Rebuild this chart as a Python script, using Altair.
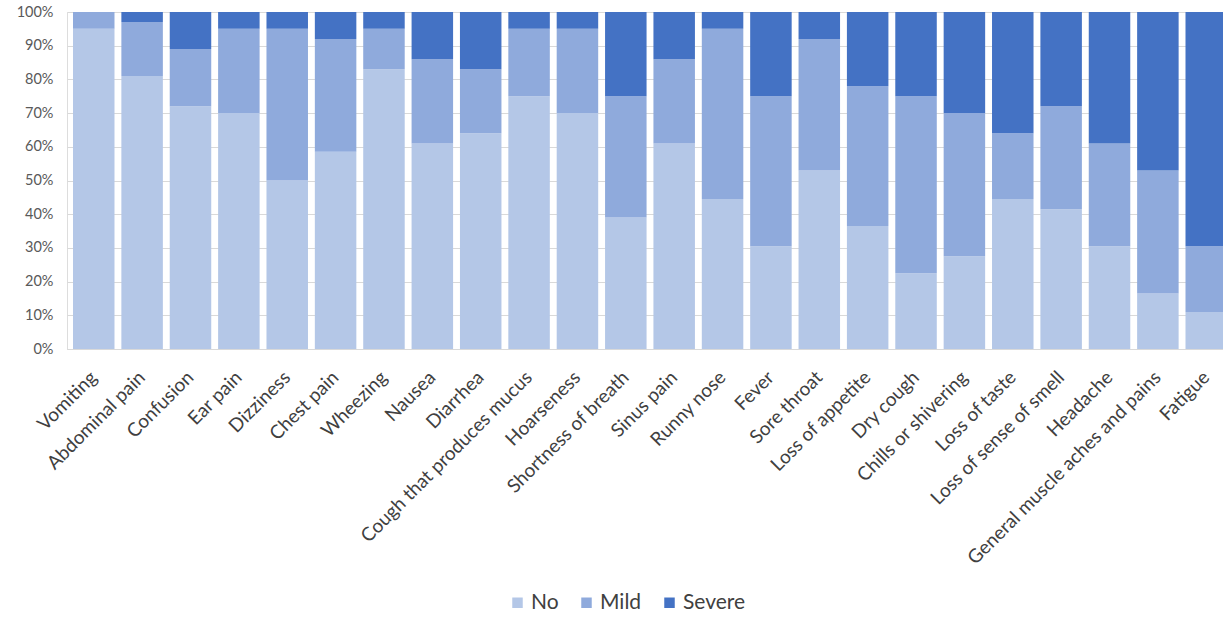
import altair as alt
import pandas as pd

# Symptom categories, in plotting order
symptoms = [
    "Vomiting", "Abdominal pain", "Confusion", "Ear pain", "Dizziness",
    "Chest pain", "Wheezing", "Nausea", "Diarrhea", "Cough that produces mucus",
    "Hoarseness", "Shortness of breath", "Sinus pain", "Runny nose", "Fever",
    "Sore throat", "Loss of appetite", "Dry cough", "Chills or shivering",
    "Loss of taste", "Loss of sense of smell", "Headache",
    "General muscle aches and pains", "Fatigue",
]

# Share of respondents (%) per severity level
no_vals = [95, 81, 72, 70, 50, 58.5, 83, 61, 64, 75, 70, 39, 61, 44.5,
           30.5, 53, 36.5, 22.5, 27.5, 44.5, 41.5, 30.5, 16.5, 11]
mild_vals = [5, 16, 17, 25, 45, 33.5, 12, 25, 19, 20, 25, 36, 25, 50.5,
             44.5, 39, 41.5, 52.5, 42.5, 19.5, 30.5, 30.5, 36.5, 19.5]
severe_vals = [0, 3, 11, 5, 5, 8, 5, 14, 17, 5, 5, 25, 14, 5,
               25, 8, 22, 25, 30, 36, 28, 39, 47, 69.5]

levels = ["No", "Mild", "Severe"]
colors = ["#B4C7E7", "#8FAADC", "#4472C4"]

rows = []
for i, s in enumerate(symptoms):
    for k, (lvl, vals) in enumerate(zip(levels, [no_vals, mild_vals, severe_vals])):
        rows.append({"symptom": s, "level": lvl, "value": vals[i], "rank": k})
df = pd.DataFrame(rows)

FONT = "Lato"

chart = alt.Chart(df).mark_bar().encode(
    x=alt.X(
        "symptom:N",
        sort=symptoms,
        title=None,
        # the band range runs a little past the right edge, so the last bar is cut
        scale=alt.Scale(range=[0, 1166], paddingInner=0.142, paddingOuter=0.124),
        axis=alt.Axis(
            labelAngle=-45,
            labelAlign="right",
            labelBaseline="middle",
            labelPadding=25,
            labelFontSize=19,
            labelColor="#404040",
            labelFont=FONT,
            labelLimit=500,
            ticks=False,
            domainColor="#D9D9D9",
            domainWidth=1,
        ),
    ),
    y=alt.Y(
        "value:Q",
        stack="normalize",
        title=None,
        scale=alt.Scale(domain=[0, 1], nice=False),
        axis=alt.Axis(
            values=[i / 10 for i in range(11)],
            format=".0%",
            labelFontSize=14.5,
            labelColor="#595959",
            labelFont=FONT,
            labelPadding=14,
            ticks=False,
            domain=False,
            gridColor="#D9D9D9",
            gridWidth=1,
        ),
    ),
    color=alt.Color(
        "level:N",
        sort=levels,
        scale=alt.Scale(domain=levels, range=colors),
        legend=alt.Legend(
            title=None,
            orient="none",
            direction="horizontal",
            legendX=440,
            legendY=580,
            symbolType="square",
            symbolSize=110,
            symbolStrokeWidth=0,
            labelFontSize=21,
            labelFont=FONT,
            labelColor="#404040",
            columnPadding=17,
            labelOffset=3,
        ),
    ),
    order=alt.Order("rank:Q", sort="ascending"),
).properties(
    width=1156,
    height=337,
    autosize=alt.AutoSizeParams(type="none"),
    padding={"left": 67, "top": 12, "right": 0, "bottom": 268},
).configure_view(stroke=None).configure(background="white")

chart.save("out.html", embed_options={"renderer": "svg", "actions": False})
